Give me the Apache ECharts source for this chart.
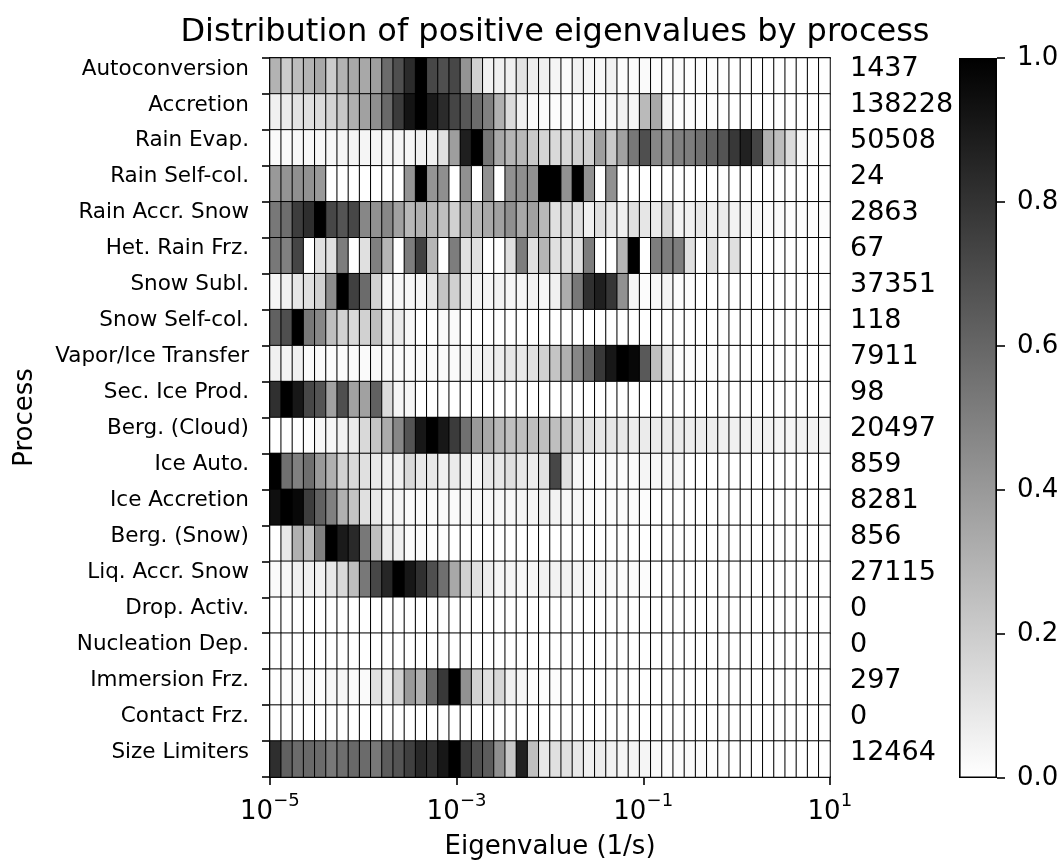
<!DOCTYPE html>
<html>
<head>
<meta charset="utf-8">
<title>Distribution of positive eigenvalues by process</title>
<script src="https://cdn.jsdelivr.net/npm/echarts@6/dist/echarts.min.js"></script>
<style>
  html, body { margin: 0; padding: 0; background: #ffffff; }
  #chart { width: 1063px; height: 865px; }
</style>
</head>
<body>
<div id="chart"></div>
<script>
// Process names (top to bottom) and the number of positive eigenvalues in each
const processes = [
  'Autoconversion', 'Accretion', 'Rain Evap.', 'Rain Self-col.', 'Rain Accr. Snow',
  'Het. Rain Frz.', 'Snow Subl.', 'Snow Self-col.', 'Vapor/Ice Transfer', 'Sec. Ice Prod.',
  'Berg. (Cloud)', 'Ice Auto.', 'Ice Accretion', 'Berg. (Snow)', 'Liq. Accr. Snow',
  'Drop. Activ.', 'Nucleation Dep.', 'Immersion Frz.', 'Contact Frz.', 'Size Limiters'
];
const counts = ['1437', '138228', '50508', '24', '2863', '67', '37351', '118', '7911', '98',
  '20497', '859', '8281', '856', '27115', '0', '0', '297', '0', '12464'];

// Eigenvalue axis (1/s) in powers of ten: 10^-5 ... 10^1, labelled every 2 decades
const expMin = -5, expMax = 1, decadeStep = 2, binCount = 50;

// Normalised histogram of each process (50 log-spaced bins, 1e-5 .. 1e1 1/s)
const autoconversion = [0.30,0.20,0.26,0.30,0.34,0.20,0.30,0.34,0.34,0.38,0.58,0.69,0.83,1.00,0.72,0.69,0.72,
  0.42,0.18,0.05,0.06,0.06,0.11,0.07,0.06,0.04,0.02,0.05,0.04,0.03,0.05,0.01,0.01,0.02,
  0.01,0.01,0.01,0,0.01,0.01,0,0,0,0,0,0,0,0,0,0];
const accretion = [0.06,0.08,0.11,0.12,0.14,0.17,0.22,0.31,0.37,0.44,0.59,0.77,0.92,1.00,0.90,0.83,0.73,
  0.66,0.58,0.50,0.31,0.14,0.06,0.02,0.02,0.01,0.01,0.01,0.02,0.02,0.03,0.05,0.04,0.27,
  0.34,0.03,0.01,0.01,0.01,0.01,0,0,0,0,0,0,0,0,0,0];
const rainEvap = [0.02,0.02,0.03,0.03,0.03,0.03,0.04,0.04,0.04,0.04,0.04,0.04,0.04,0.06,0.06,0.12,0.38,
  0.88,1.00,0.54,0.34,0.29,0.28,0.21,0.17,0.15,0.15,0.18,0.18,0.38,0.21,0.37,0.53,0.69,
  0.47,0.43,0.50,0.51,0.56,0.62,0.67,0.78,0.87,0.73,0.31,0.26,0.14,0.03,0.01,0];
const rainSelfCol = [0.40,0.42,0.44,0.43,0.40,0,0,0,0,0,0,0,0.42,1.00,0.42,0.44,0,
  0.43,0,0.43,0,0.43,0.44,0.43,1.00,1.00,0.43,1.00,0.43,0,0.43,0,0,0,
  0,0,0,0,0,0,0,0,0,0,0,0,0,0,0,0];
const rainAccrSnow = [0.53,0.57,0.76,0.82,1.00,0.72,0.67,0.72,0.47,0.43,0.47,0.37,0.28,0.31,0.28,0.25,0.18,
  0.31,0.28,0.34,0.37,0.44,0.34,0.37,0.28,0.12,0.15,0.12,0.06,0.12,0.09,0.06,0.12,0.10,
  0.08,0.15,0.05,0.06,0.09,0.06,0.08,0.05,0.04,0.03,0.02,0.02,0.01,0.01,0.01,0.01];
const hetRainFrz = [0.53,0.50,0.73,0,0.12,0.12,0.51,0,0.12,0.50,0.29,0,0.51,0.75,0.29,0,0.51,
  0.12,0.12,0,0,0.12,0.51,0.12,0.29,0.12,0.12,0.12,0.51,0,0,0.29,1.00,0,
  0.51,0.51,0.51,0.12,0,0.12,0,0.12,0,0,0,0,0,0,0,0];
const snowSubl = [0.04,0.06,0.10,0.12,0.18,0.45,1.00,0.75,0.58,0.18,0.03,0.03,0.03,0.04,0.10,0.23,0.18,
  0.09,0.05,0.04,0.05,0.04,0.04,0.05,0.03,0.06,0.32,0.53,0.81,0.88,0.79,0.43,0.03,0.01,
  0.03,0.04,0.01,0.01,0,0,0,0,0,0,0,0,0,0,0,0];
const snowSelfCol = [0.62,0.69,1.00,0.53,0.47,0.25,0.18,0.15,0.18,0.25,0.08,0.08,0.03,0,0,0.02,0.02,
  0,0,0,0,0,0,0,0,0,0,0,0,0,0,0,0,0,
  0,0,0,0,0,0,0,0,0,0,0,0,0,0,0,0];
const vaporIceTransfer = [0.06,0.04,0.06,0.02,0.02,0.01,0.01,0.02,0.02,0.02,0.02,0.02,0.02,0.02,0.02,0.02,0.02,
  0.04,0.04,0.06,0.07,0.10,0.09,0.12,0.18,0.23,0.31,0.47,0.59,0.78,0.91,1.00,0.97,0.65,
  0.25,0.09,0.01,0.01,0.01,0.01,0,0,0,0,0,0,0,0,0,0];
const secIceProd = [0.81,1.00,0.91,0.72,0.67,0.37,0.69,0.37,0.37,0.62,0.14,0.04,0.04,0,0,0,0,
  0,0,0,0,0,0,0,0,0,0,0,0,0,0,0,0,0,
  0,0,0,0,0,0,0,0,0,0,0,0,0,0,0,0];
const bergCloud = [0,0,0,0.01,0.03,0.03,0.05,0.08,0.15,0.23,0.33,0.47,0.67,0.91,1.00,0.91,0.77,
  0.56,0.40,0.34,0.28,0.25,0.25,0.25,0.25,0.25,0.22,0.15,0.12,0.10,0.10,0.09,0.07,0.08,
  0.08,0.08,0.08,0.07,0.07,0.07,0.06,0.06,0.05,0.05,0.05,0.04,0.04,0.05,0.05,0.04];
const iceAuto = [1.00,0.56,0.50,0.57,0.40,0.31,0.18,0.15,0.12,0.09,0.06,0.06,0.15,0.09,0.09,0.06,0.08,
  0.06,0.04,0.09,0.09,0.12,0.09,0.07,0.12,0.72,0.12,0.03,0.02,0.01,0.02,0.01,0.01,0.04,
  0.03,0.03,0.04,0,0,0,0,0,0,0,0,0,0,0,0,0];
const iceAccretion = [0.94,1.00,0.97,0.76,0.62,0.50,0.31,0.23,0.12,0.09,0.04,0.04,0.02,0.02,0.02,0.02,0.02,
  0.03,0.03,0.03,0.03,0.03,0.04,0.04,0.06,0.05,0.03,0.03,0.02,0.01,0.01,0.01,0.01,0.01,
  0,0,0,0,0,0,0,0,0,0,0,0,0,0,0,0];
const bergSnow = [0,0.09,0.31,0.25,0.50,1.00,0.90,0.84,0.53,0.25,0.08,0.06,0.02,0.02,0.01,0.01,0,
  0,0,0,0,0,0,0,0,0,0,0,0,0,0,0,0,0,
  0,0,0,0,0,0,0,0,0,0,0,0,0,0,0,0];
const liqAccrSnow = [0.02,0.03,0.06,0.06,0.06,0.09,0.15,0.26,0.53,0.72,0.85,1.00,0.91,0.81,0.69,0.56,0.34,
  0.18,0.12,0.07,0.04,0.04,0.03,0.03,0.05,0.05,0.05,0.04,0.03,0.03,0.02,0.01,0.01,0.01,
  0,0,0,0,0,0,0,0,0,0,0,0,0,0,0,0];
const dropActiv = [0,0,0,0,0,0,0,0,0,0,0,0,0,0,0,0,0,0,0,0,0,0,0,0,0,
  0,0,0,0,0,0,0,0,0,0,0,0,0,0,0,0,0,0,0,0,0,0,0,0,0];
const nucleationDep = [0,0,0,0,0,0,0,0,0,0,0,0,0,0,0,0,0,0,0,0,0,0,0,0,0,
  0,0,0,0,0,0,0,0,0,0,0,0,0,0,0,0,0,0,0,0,0,0,0,0,0];
const immersionFrz = [0,0.01,0.02,0.03,0.01,0.03,0.03,0.02,0.02,0.12,0.07,0.18,0.40,0.31,0.59,0.78,1.00,
  0.43,0.18,0.12,0.16,0.06,0.04,0.01,0.01,0.01,0,0,0,0,0,0,0,0,
  0,0,0,0,0,0,0,0,0,0,0,0,0,0,0,0];
const contactFrz = [0,0,0,0,0,0,0,0,0,0,0,0,0,0,0,0,0,0,0,0,0,0,0,0,0,
  0,0,0,0,0,0,0,0,0,0,0,0,0,0,0,0,0,0,0,0,0,0,0,0,0];
const sizeLimiters = [0.82,0.62,0.58,0.59,0.58,0.53,0.57,0.59,0.58,0.53,0.64,0.67,0.75,0.84,0.81,0.91,1.00,
  0.78,0.69,0.64,0.44,0.22,0.87,0.25,0.09,0.12,0.12,0.09,0.06,0.07,0.05,0.04,0.04,0.04,
  0.02,0.01,0.01,0.02,0.02,0.01,0.01,0,0,0,0,0,0,0,0,0];

const rows = [autoconversion, accretion, rainEvap, rainSelfCol, rainAccrSnow, hetRainFrz,
  snowSubl, snowSelfCol, vaporIceTransfer, secIceProd, bergCloud, iceAuto, iceAccretion,
  bergSnow, liqAccrSnow, dropActiv, nucleationDep, immersionFrz, contactFrz, sizeLimiters];

// Bin categories: lower edge exponent of each log bin
const bins = [];
for (let k = 0; k < binCount; k++) {
  bins.push((expMin + k * (expMax - expMin) / binCount).toFixed(2));
}

// [bin, process, value] triples for the heatmap
const cells = [];
rows.forEach((row, r) => row.forEach((v, c) => cells.push([c, r, v])));

const FONT = 'DejaVu Sans';
const chart = echarts.init(document.getElementById('chart'), null, { renderer: 'canvas' });

// The decade axis runs 0..6 (offset from 10^-5) so its ticks start at a multiple of the step.
const exponentOf = v => Math.round(v + expMin);
const exponentText = e => (e < 0 ? '\u2212' + (-e) : String(e));

// "10" base labels, nudged left to leave room for the exponent
function baseLabel(v) {
  return exponentText(exponentOf(v)).length > 1 ? '{w|10}' : '{n|10}';
}
// exponent labels, drawn smaller, higher and to the right of the base
function powerLabel(v) {
  return '{s|' + exponentText(exponentOf(v)) + '}';
}

const decadeAxis = {
  type: 'value', gridIndex: 0, position: 'bottom',
  min: 0, max: expMax - expMin, interval: decadeStep,
  splitLine: { show: false }
};

chart.setOption({
  backgroundColor: '#ffffff',
  animation: false,
  textStyle: { fontFamily: FONT, color: '#000' },
  title: {
    text: 'Distribution of positive eigenvalues by process',
    left: 550, top: 12, textAlign: 'center',
    textStyle: { fontFamily: FONT, fontSize: 32, fontWeight: 'normal', color: '#000' }
  },
  grid: [
    { left: 270, top: 58, width: 560, height: 720 },
    { left: 959, top: 58, width: 38, height: 720 }
  ],
  xAxis: [
    {
      type: 'category', gridIndex: 0, data: bins, position: 'top',
      axisLine: { show: true, lineStyle: { color: '#000', width: 2 } },
      axisTick: { show: false }, axisLabel: { show: false }, splitLine: { show: false }
    },
    Object.assign({}, decadeAxis, {
      name: 'Eigenvalue (1/s)', nameLocation: 'middle', nameGap: 57,
      nameTextStyle: { fontFamily: FONT, fontSize: 26, color: '#000' },
      axisLine: { show: true, onZero: false, lineStyle: { color: '#000', width: 2 } },
      axisTick: { show: true, inside: false, length: 8, lineStyle: { color: '#000', width: 1.6 } },
      axisLabel: {
        margin: 22,
        formatter: baseLabel,
        rich: {
          w: { fontFamily: FONT, fontSize: 26, color: '#000', padding: [0, 27, 0, 0] },
          n: { fontFamily: FONT, fontSize: 26, color: '#000', padding: [0, 12, 0, 0] }
        }
      }
    }),
    {
      type: 'category', gridIndex: 1, data: [''],
      axisLine: { show: false }, axisTick: { show: false }, axisLabel: { show: false }
    },
    Object.assign({}, decadeAxis, {
      axisLine: { show: false, onZero: false },
      axisTick: { show: false },
      axisLabel: {
        margin: 15,
        formatter: powerLabel,
        rich: {
          s: { fontFamily: FONT, fontSize: 18, color: '#000', padding: [0, 0, 0, 33] }
        }
      }
    })
  ],
  yAxis: [
    {
      type: 'category', gridIndex: 0, data: processes, inverse: true, position: 'left',
      name: 'Process', nameLocation: 'middle', nameGap: 232, nameRotate: 90,
      nameTextStyle: { fontFamily: FONT, fontSize: 26, color: '#000' },
      axisLine: { show: true, lineStyle: { color: '#000', width: 2 } },
      axisTick: { show: true, length: 8, lineStyle: { color: '#000', width: 1.6 } },
      axisLabel: { fontFamily: FONT, fontSize: 21.5, color: '#000', margin: 21,
        verticalAlign: 'bottom', lineHeight: 14 },
      splitLine: { show: false }
    },
    {
      type: 'category', gridIndex: 0, data: counts, inverse: true, position: 'right',
      axisLine: { show: true, lineStyle: { color: '#000', width: 2 } },
      axisTick: { show: true, length: 8, lineStyle: { color: '#000', width: 1.6 } },
      axisLabel: { fontFamily: FONT, fontSize: 27, color: '#000', margin: 20,
        verticalAlign: 'bottom', lineHeight: 13 },
      splitLine: { show: false }
    },
    {
      type: 'value', gridIndex: 1, position: 'right', min: 0, max: 1, interval: 0.2,
      axisLine: { show: false },
      axisTick: { show: true, length: 8, lineStyle: { color: '#000', width: 1.6 } },
      axisLabel: { fontFamily: FONT, fontSize: 26, color: '#000', margin: 20,
        formatter: v => v.toFixed(1) },
      splitLine: { show: false }
    }
  ],
  visualMap: {
    show: false, type: 'continuous', min: 0, max: 1, dimension: 2, seriesIndex: 0,
    inRange: { color: ['#ffffff', '#000000'] }
  },
  series: [
    {
      type: 'heatmap', xAxisIndex: 0, yAxisIndex: 0, data: cells, silent: true,
      itemStyle: { borderColor: '#000', borderWidth: 1 },
      emphasis: { disabled: true }
    },
    {
      // colour bar
      type: 'bar', xAxisIndex: 2, yAxisIndex: 2, data: [1], barWidth: '100%', silent: true,
      itemStyle: {
        color: new echarts.graphic.LinearGradient(0, 0, 0, 1, [
          { offset: 0, color: '#000000' }, { offset: 1, color: '#ffffff' }
        ]),
        borderColor: '#000', borderWidth: 1.6
      }
    }
  ]
});
</script>
</body>
</html>
